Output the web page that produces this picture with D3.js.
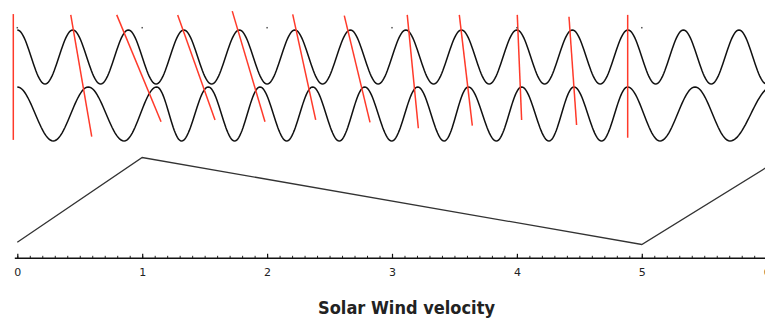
<!DOCTYPE html>
<html><head><meta charset="utf-8">
<script src="https://cdn.jsdelivr.net/npm/d3@7"></script>
<style>html,body{margin:0;padding:0;background:#fff;overflow:hidden}</style>
</head><body><svg id="c" width="765" height="320"></svg>
<script>
// ---- data (x in axis units 0..6) ----
// extrema positions of the emitted (top) wave: peak, trough, peak, ...
const topExtrema = [0, 0.222, 0.444, 0.667, 0.889, 1.111, 1.333, 1.556, 1.778, 2.0,
  2.222, 2.444, 2.667, 2.889, 3.111, 3.333, 3.556, 3.778, 4.0, 4.222, 4.444, 4.667,
  4.889, 5.111, 5.333, 5.556, 5.778, 6.0];
// extrema positions of the received (bottom) wave
const bottomExtrema = [0, 0.288, 0.568, 0.855, 1.116, 1.315, 1.529, 1.740, 1.943, 2.157,
  2.365, 2.578, 2.781, 2.998, 3.206, 3.418, 3.611, 3.836, 4.038, 4.257, 4.457, 4.678,
  4.886, 5.146, 5.426, 5.706, 6.04];
const waveCenters = [0, -2.11];          // signal units
// red connector lines between matching crests
const redTopX    = [-0.032, 0.428, 0.796, 1.284, 1.721, 2.205, 2.618, 3.122, 3.539, 4.003, 4.417, 4.887];
const redBottomX = [-0.032, 0.596, 1.151, 1.583, 1.983, 2.389, 2.824, 3.211, 3.643, 4.038, 4.478, 4.887];
const redTopY    = [1.59, 1.56, 1.56, 1.56, 1.70, 1.58, 1.53, 1.56, 1.56, 1.56, 1.49, 1.56];
const redBottomY = [-3.07, -2.95, -2.40, -2.33, -2.40, -2.33, -2.42, -2.64, -2.54, -2.33, -2.52, -2.99];
// small marks at integer positions
const dotX = [0, 1, 2, 3, 4, 5, 6];
const dotY = [1.085, 1.085, 1.085, 1.085, 1.085, 1.085, 1.085];
// solar wind velocity profile
const velX = [0, 1, 5, 6];
const velV = [310, 700, 300, 655];
// axis
const majorTicks = [0, 1, 2, 3, 4, 5, 6];
const tickLabels = ["0", "1", "2", "3", "4", "5", "6"];
const titleText = "Solar Wind velocity";

// ---- scales ----
const svg = d3.select("#c");
const x = d3.scaleLinear().domain([0, 6]).range([17.3, 766.7]);
const ySig = d3.scaleLinear().domain([-1, 1]).range([84, 30]);
const yVel = d3.scaleLinear().domain([300, 700]).range([244.5, 157.5]);

// ---- waves ----
function wavePoints(ext, center) {
  const pts = [];
  for (let i = 0; i < ext.length - 1; i++) {
    const n = 24;
    for (let j = 0; j < n; j++) {
      const t = j / n;
      const xv = ext[i] + (ext[i + 1] - ext[i]) * t;
      pts.push([xv, center + Math.cos(Math.PI * (i + t))]);
    }
  }
  const last = ext.length - 1;
  pts.push([ext[last], center + Math.cos(Math.PI * last)]);
  return pts;
}
const line = d3.line().x(d => x(d[0])).y(d => ySig(d[1])).curve(d3.curveLinear);
[topExtrema, bottomExtrema].forEach((ext, k) => {
  svg.append("path")
    .attr("d", line(wavePoints(ext, waveCenters[k])))
    .attr("fill", "none").attr("stroke", "#111").attr("stroke-width", 1.5);
});

// ---- red connectors ----
svg.append("g").selectAll("line").data(redTopX).join("line")
  .attr("x1", (d, i) => x(d)).attr("y1", (d, i) => ySig(redTopY[i]))
  .attr("x2", (d, i) => x(redBottomX[i])).attr("y2", (d, i) => ySig(redBottomY[i]))
  .attr("stroke", "#ff3a2a").attr("stroke-width", 1.5);

// ---- tiny marks ----
svg.append("g").selectAll("rect").data(dotX).join("rect")
  .attr("x", d => x(d) - 0.75).attr("y", (d, i) => ySig(dotY[i]) - 0.75)
  .attr("width", 1.5).attr("height", 1.5).attr("fill", "#555");

// ---- velocity profile ----
svg.append("path")
  .attr("d", d3.line().x((d, i) => x(velX[i])).y(d => yVel(d))(velV))
  .attr("fill", "none").attr("stroke", "#333").attr("stroke-width", 1.3);

// ---- axis ----
const axisY = 258.3;
const minor = svg.append("g").attr("transform", `translate(0,${axisY})`)
  .call(d3.axisBottom(x).tickValues(d3.range(0, 60.5, 1).map(v => v / 10))
    .tickSizeInner(-2.5).tickSizeOuter(0).tickFormat(""));
minor.select(".domain").remove();
minor.selectAll("line").attr("stroke", "#222").attr("stroke-width", 1);
const major = svg.append("g").attr("transform", `translate(0,${axisY})`)
  .call(d3.axisBottom(x).tickValues(majorTicks).tickSizeInner(-4.5).tickSizeOuter(0)
    .tickPadding(9.5).tickFormat((d, i) => tickLabels[i]));
major.select(".domain").attr("stroke", "#111").attr("stroke-width", 1.5)
  .attr("d", `M${x(-0.02)},0H${x(6)}`);
major.selectAll("line").attr("stroke", "#111").attr("stroke-width", 1.2);
major.selectAll("text").attr("font-family", "DejaVu Sans, sans-serif")
  .attr("font-size", 11).attr("fill", "#222");

// ---- title ----
svg.append("text").attr("x", 406.5).attr("y", 314).attr("text-anchor", "middle")
  .attr("font-family", "DejaVu Sans, sans-serif").attr("font-weight", "bold")
  .attr("font-size", 17).attr("fill", "#222")
  .attr("textLength", 177).attr("lengthAdjust", "spacingAndGlyphs")
  .text(titleText);
</script></body></html>
